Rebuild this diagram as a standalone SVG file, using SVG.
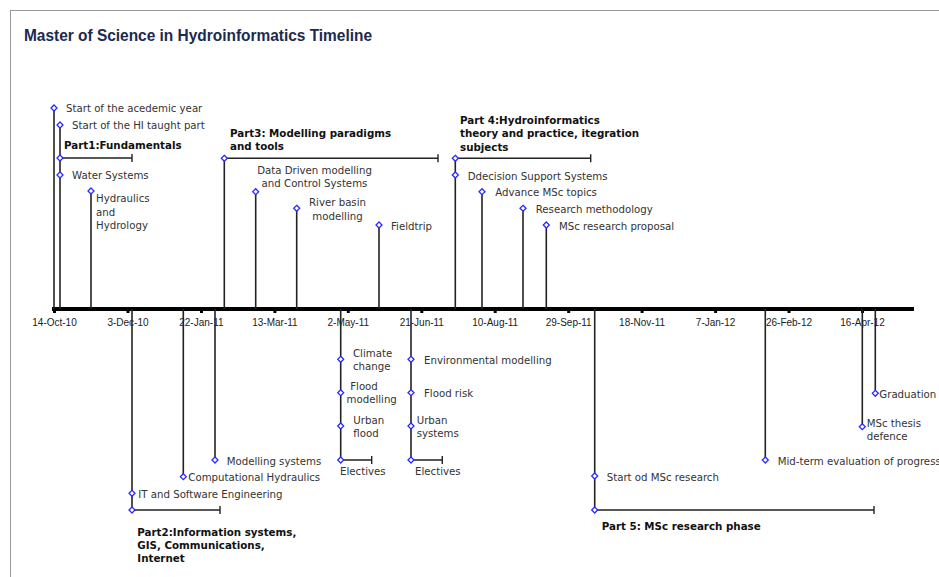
<svg xmlns="http://www.w3.org/2000/svg" xmlns:xlink="http://www.w3.org/1999/xlink" width="939" height="577" viewBox="0 0 939 577">
<style>
.frame{fill:#fff;stroke:#999;stroke-width:1}
.title{font-family:"Liberation Sans",Arial,sans-serif;font-weight:bold;font-size:16px;fill:#1c2a4e}
.ax{font-family:"Liberation Sans",Arial,sans-serif;font-size:10px;fill:#222;text-anchor:middle}
.lb{font-family:"DejaVu Sans",Verdana,sans-serif;font-size:10.2px;fill:#333}
.bd{font-family:"DejaVu Sans",Verdana,sans-serif;font-size:10.3px;font-weight:bold;fill:#111}
.mid{text-anchor:middle}
.stem{stroke:#222;stroke-width:1.6;fill:none}
.bar{stroke:#222;stroke-width:1.4;fill:none}
.axis{stroke:#000;stroke-width:4;fill:none}
.tick{fill:#000}
.dia{fill:#fff;stroke:#2b2bff;stroke-width:1.3}
</style>
<defs>
<path id="dm" class="dia" d="M0,-3 L3,0 L0,3 L-3,0 Z"/>
</defs>
<rect class="frame" x="10.5" y="10.5" width="1000" height="1000"/>
<text class="title" x="24" y="41" textLength="348" lengthAdjust="spacingAndGlyphs">Master of Science in Hydroinformatics Timeline</text>

<g id="connectors">
<line class="axis" x1="52" y1="309" x2="914" y2="309"/>
<g class="tick">
<rect x="53" y="310" width="3" height="3"/><rect x="126.5" y="310" width="3" height="3"/><rect x="200" y="310" width="3" height="3"/><rect x="273.4" y="310" width="3" height="3"/><rect x="346.8" y="310" width="3" height="3"/><rect x="420.3" y="310" width="3" height="3"/><rect x="493.7" y="310" width="3" height="3"/><rect x="567.2" y="310" width="3" height="3"/><rect x="640.6" y="310" width="3" height="3"/><rect x="714.1" y="310" width="3" height="3"/><rect x="787.5" y="310" width="3" height="3"/><rect x="861" y="310" width="3" height="3"/>
</g>
<!-- upper stems -->
<line class="stem" x1="54" y1="108" x2="54" y2="309"/>
<line class="stem" x1="60" y1="125" x2="60" y2="309"/>
<line class="stem" x1="91" y1="191" x2="91" y2="309"/>
<line class="stem" x1="224.3" y1="158.3" x2="224.3" y2="309"/>
<line class="stem" x1="255.7" y1="191.7" x2="255.7" y2="309"/>
<line class="stem" x1="296.7" y1="208.3" x2="296.7" y2="309"/>
<line class="stem" x1="379" y1="225" x2="379" y2="309"/>
<line class="stem" x1="455.3" y1="158.3" x2="455.3" y2="309"/>
<line class="stem" x1="482" y1="191.7" x2="482" y2="309"/>
<line class="stem" x1="523" y1="208.3" x2="523" y2="309"/>
<line class="stem" x1="546.3" y1="225" x2="546.3" y2="309"/>
<!-- lower stems -->
<line class="stem" x1="132" y1="309" x2="132" y2="510"/>
<line class="stem" x1="183.3" y1="309" x2="183.3" y2="476.7"/>
<line class="stem" x1="215" y1="309" x2="215" y2="460"/>
<line class="stem" x1="340.7" y1="309" x2="340.7" y2="460"/>
<line class="stem" x1="411" y1="309" x2="411" y2="460"/>
<line class="stem" x1="594.7" y1="309" x2="594.7" y2="510"/>
<line class="stem" x1="765.3" y1="309" x2="765.3" y2="460"/>
<line class="stem" x1="862.3" y1="309" x2="862.3" y2="426.7"/>
<line class="stem" x1="875.3" y1="309" x2="875.3" y2="393.3"/>
<!-- phase bars -->
<path class="bar" d="M60,158 H132 M132,154 V162"/>
<path class="bar" d="M224.3,158.3 H438 M438,154.3 V162.3"/>
<path class="bar" d="M455.3,158.3 H590.7 M590.7,154.3 V162.3"/>
<path class="bar" d="M132,510 H220 M220,506 V514"/>
<path class="bar" d="M340.7,460 H371.7 M371.7,456 V464"/>
<path class="bar" d="M411,460 H442.3 M442.3,456 V464"/>
<path class="bar" d="M594.7,510 H874 M874,506 V514"/>
</g>

<g id="axis-labels">
<text class="ax" x="54.5" y="326">14-Oct-10</text>
<text class="ax" x="128" y="326">3-Dec-10</text>
<text class="ax" x="201.4" y="326">22-Jan-11</text>
<text class="ax" x="274.9" y="326">13-Mar-11</text>
<text class="ax" x="348.3" y="326">2-May-11</text>
<text class="ax" x="421.8" y="326">21-Jun-11</text>
<text class="ax" x="495.2" y="326">10-Aug-11</text>
<text class="ax" x="568.7" y="326">29-Sep-11</text>
<text class="ax" x="642.1" y="326">18-Nov-11</text>
<text class="ax" x="715.6" y="326">7-Jan-12</text>
<text class="ax" x="789" y="326">26-Feb-12</text>
<text class="ax" x="862.5" y="326">16-Apr-12</text>
</g>

<g id="n-start-year"><use xlink:href="#dm" x="54" y="108"/><text class="lb" x="66" y="112">Start of the acedemic year</text></g>
<g id="n-start-hi"><use xlink:href="#dm" x="60" y="125"/><text class="lb" x="72" y="129">Start of the HI taught part</text></g>
<g id="n-part1"><use xlink:href="#dm" x="60" y="158"/><text class="bd" x="64" y="148.5">Part1:Fundamentals</text></g>
<g id="n-water"><use xlink:href="#dm" x="60" y="175"/><text class="lb" x="72" y="179">Water Systems</text></g>
<g id="n-hydraulics"><use xlink:href="#dm" x="91" y="191"/><text class="lb" x="96" y="202">Hydraulics</text><text class="lb" x="96" y="215.5">and</text><text class="lb" x="96" y="229">Hydrology</text></g>

<g id="n-part3"><use xlink:href="#dm" x="224.3" y="158.3"/><text class="bd" x="230" y="136.5">Part3: Modelling paradigms</text><text class="bd" x="230" y="149.5">and tools</text></g>
<g id="n-datadriven"><use xlink:href="#dm" x="255.7" y="191.7"/><text class="lb mid" x="314.5" y="173.5">Data Driven modelling</text><text class="lb mid" x="314.5" y="186.5">and Control Systems</text></g>
<g id="n-river"><use xlink:href="#dm" x="296.7" y="208.3"/><text class="lb mid" x="337.5" y="206">River basin</text><text class="lb mid" x="337.5" y="219.5">modelling</text></g>
<g id="n-fieldtrip"><use xlink:href="#dm" x="379" y="225"/><text class="lb" x="391" y="230">Fieldtrip</text></g>

<g id="n-part4"><use xlink:href="#dm" x="455.3" y="158.3"/><text class="bd" x="460" y="123.5">Part 4:Hydroinformatics</text><text class="bd" x="460" y="137">theory and practice, itegration</text><text class="bd" x="460" y="150.5">subjects</text></g>
<g id="n-dss"><use xlink:href="#dm" x="455.3" y="175"/><text class="lb" x="467.7" y="179.5">Ddecision Support Systems</text></g>
<g id="n-advance"><use xlink:href="#dm" x="482" y="191.7"/><text class="lb" x="495.3" y="196">Advance MSc topics</text></g>
<g id="n-research-meth"><use xlink:href="#dm" x="523" y="208.3"/><text class="lb" x="535.7" y="213">Research methodology</text></g>
<g id="n-proposal"><use xlink:href="#dm" x="546.3" y="225"/><text class="lb" x="559" y="230">MSc research proposal</text></g>

<g id="n-part2"><use xlink:href="#dm" x="132" y="510"/><text class="bd" x="137.3" y="536">Part2:Information systems,</text><text class="bd" x="137.3" y="549.3">GIS, Communications,</text><text class="bd" x="137.3" y="562.3">Internet</text></g>
<g id="n-it"><use xlink:href="#dm" x="132" y="493.3"/><text class="lb" x="138.3" y="498">IT and Software Engineering</text></g>
<g id="n-comphyd"><use xlink:href="#dm" x="183.3" y="476.7"/><text class="lb" x="188.3" y="481">Computational Hydraulics</text></g>
<g id="n-modsys"><use xlink:href="#dm" x="215" y="460"/><text class="lb" x="226.7" y="465">Modelling systems</text></g>

<g id="n-climate"><use xlink:href="#dm" x="340.7" y="359.3"/><text class="lb" x="353" y="357">Climate</text><text class="lb" x="353" y="370">change</text></g>
<g id="n-floodmod"><use xlink:href="#dm" x="340.7" y="392.7"/><text class="lb mid" x="364" y="389.5">Flood</text><text class="lb mid" x="371.7" y="402.5">modelling</text></g>
<g id="n-urbanflood"><use xlink:href="#dm" x="340.7" y="426"/><text class="lb" x="353.3" y="423.5">Urban</text><text class="lb" x="353.3" y="436.5">flood</text></g>
<g id="n-electives1"><use xlink:href="#dm" x="340.7" y="460"/><text class="lb" x="340" y="475">Electives</text></g>

<g id="n-envmod"><use xlink:href="#dm" x="411" y="359.3"/><text class="lb" x="424" y="364">Environmental modelling</text></g>
<g id="n-floodrisk"><use xlink:href="#dm" x="411" y="392.7"/><text class="lb" x="424" y="397">Flood risk</text></g>
<g id="n-urbansys"><use xlink:href="#dm" x="411" y="426"/><text class="lb" x="416.7" y="423.5">Urban</text><text class="lb" x="416.7" y="436.5">systems</text></g>
<g id="n-electives2"><use xlink:href="#dm" x="411" y="460"/><text class="lb" x="415" y="475">Electives</text></g>

<g id="n-start-msc"><use xlink:href="#dm" x="594.7" y="476"/><text class="lb" x="606.7" y="481">Start od MSc research</text></g>
<g id="n-part5"><use xlink:href="#dm" x="594.7" y="510"/><text class="bd" x="601.7" y="530">Part 5: MSc research phase</text></g>
<g id="n-midterm"><use xlink:href="#dm" x="765.3" y="460"/><text class="lb" x="777.7" y="465">Mid-term evaluation of progress</text></g>
<g id="n-defence"><use xlink:href="#dm" x="862.3" y="426.7"/><text class="lb" x="866.7" y="427">MSc thesis</text><text class="lb" x="866.7" y="439.5">defence</text></g>
<g id="n-graduation"><use xlink:href="#dm" x="875.3" y="393.3"/><text class="lb" x="879.3" y="398">Graduation</text></g>
</svg>
